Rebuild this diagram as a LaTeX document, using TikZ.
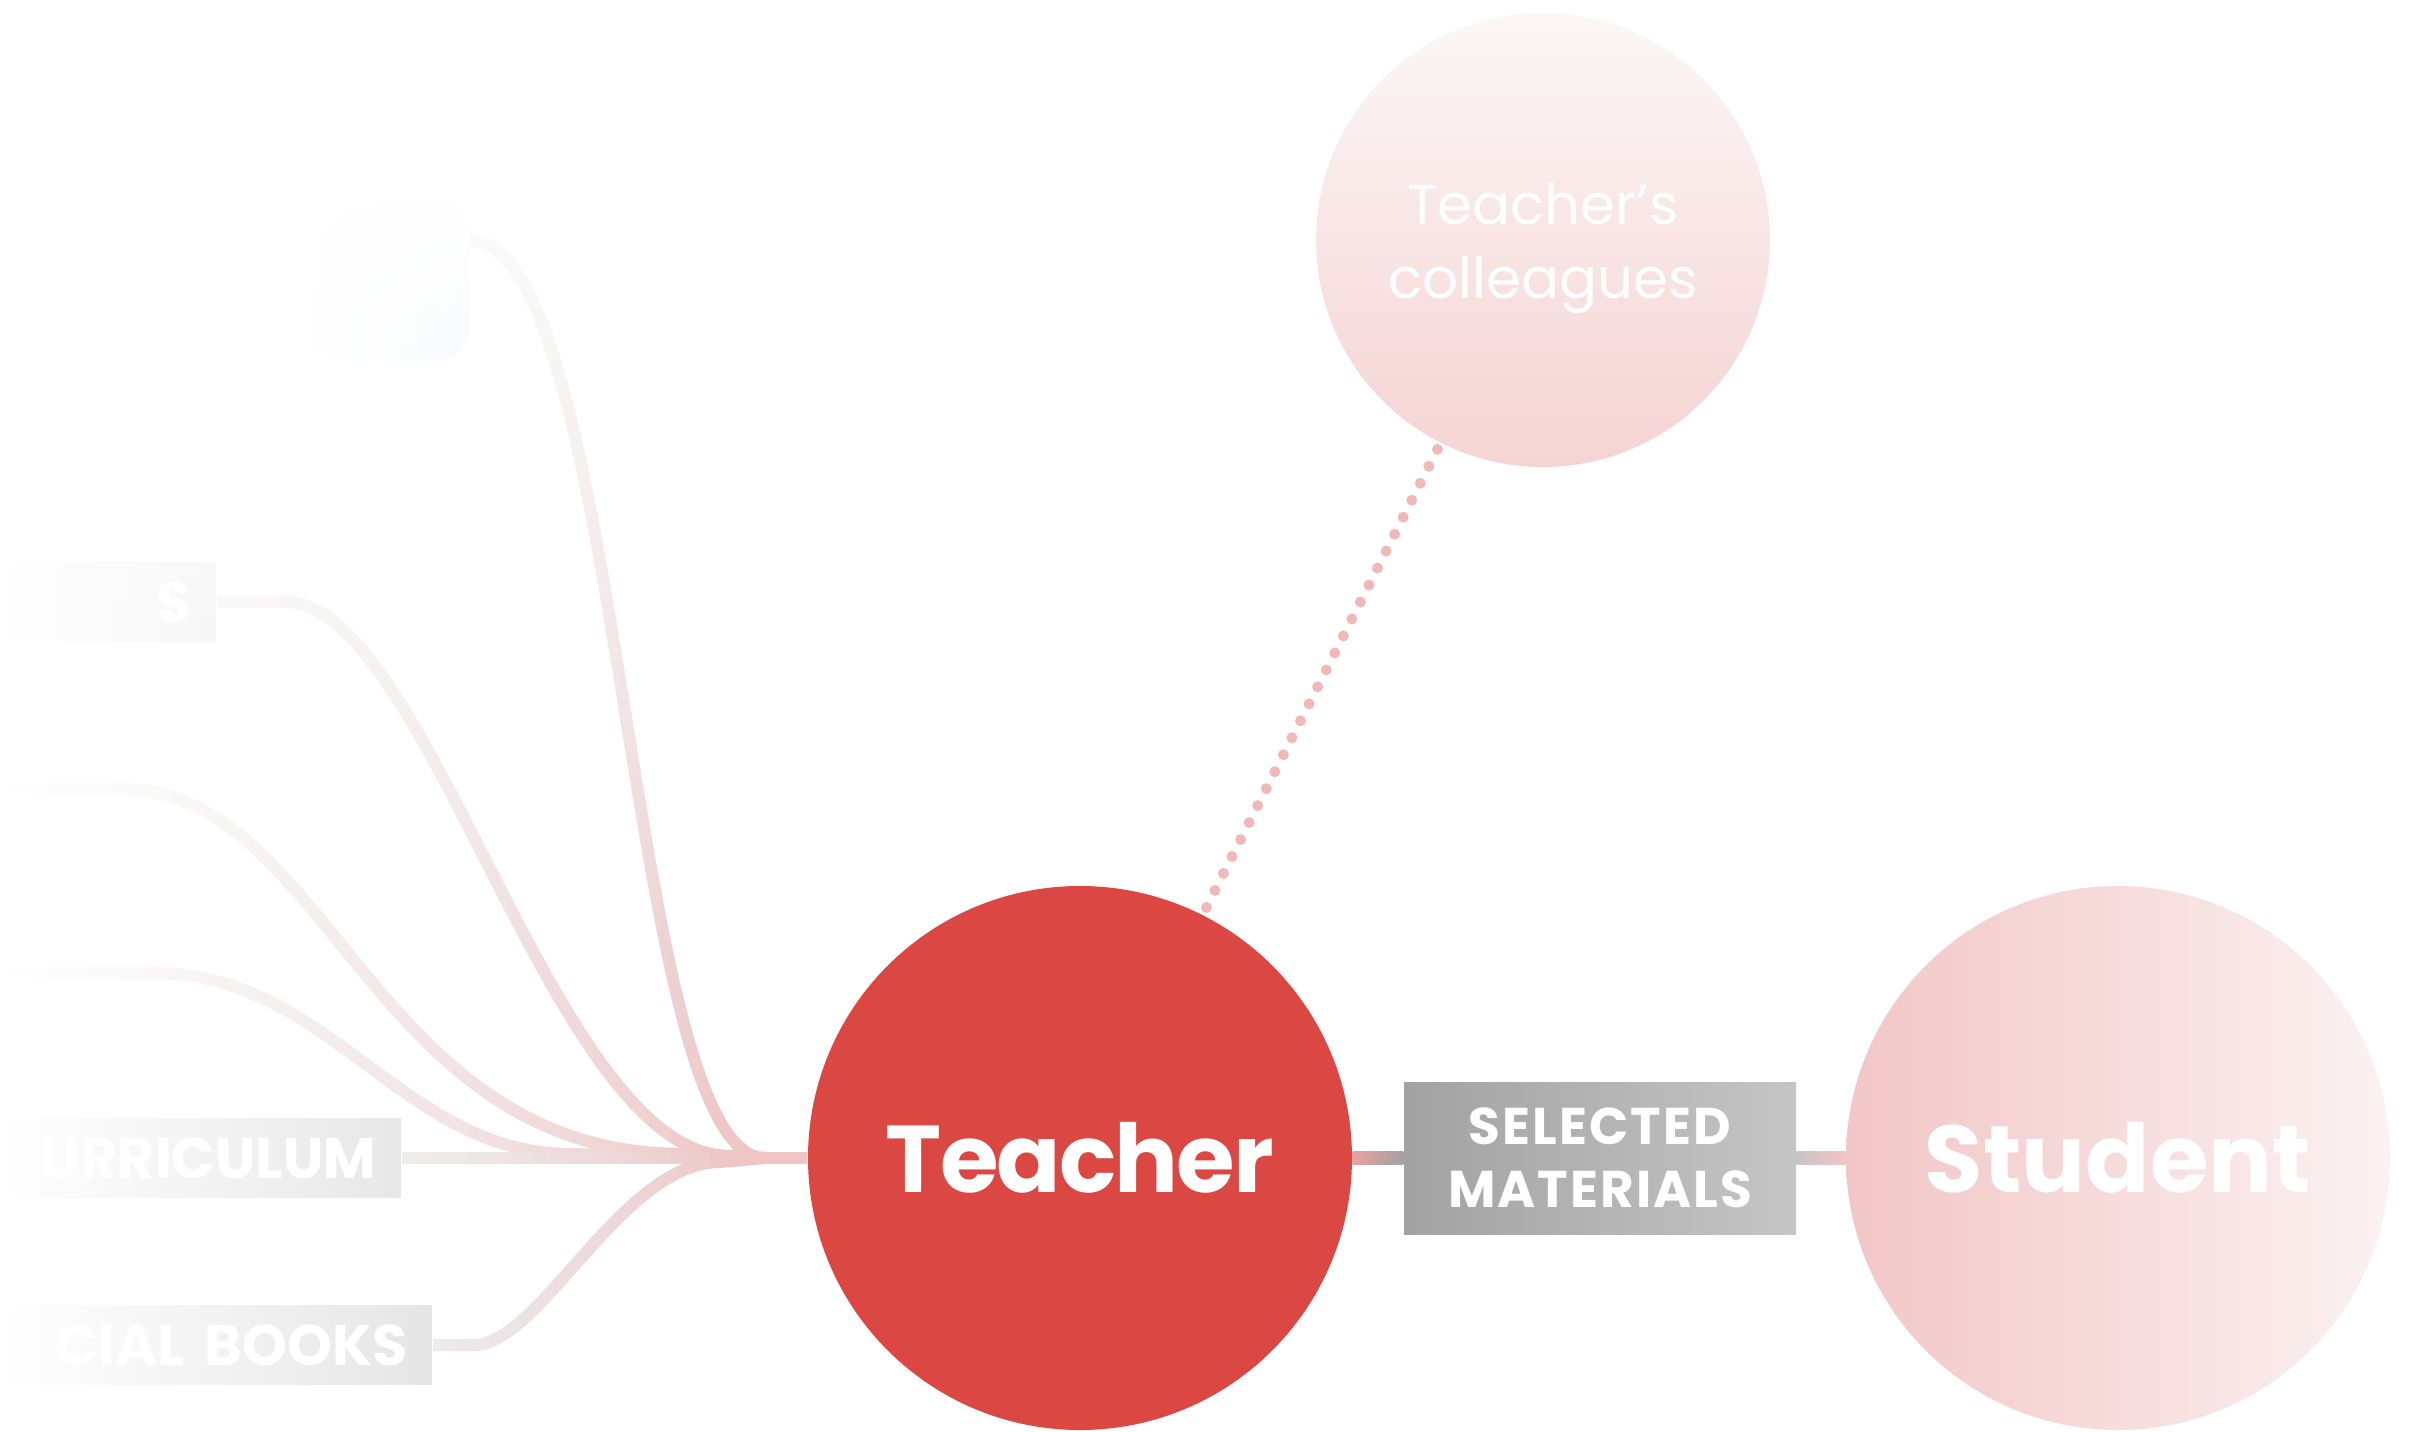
\documentclass[tikz,border=0pt]{standalone}
\usepackage{fontspec}
\setmainfont{Poppins}
\usetikzlibrary{positioning,fadings,shadings}
\definecolor{tred}{RGB}{219,71,66}
\definecolor{tpink}{RGB}{242,196,196}
\definecolor{tpinkdeep}{RGB}{235,160,160}
\definecolor{tgrayline}{RGB}{222,218,218}
\definecolor{tdot}{RGB}{240,184,184}
\definecolor{tstudentl}{RGB}{242,198,198}
\definecolor{tstudentr}{RGB}{251,242,242}
\definecolor{tcolltop}{RGB}{252,247,247}
\definecolor{tcollbot}{RGB}{245,211,211}
\definecolor{tselleft}{RGB}{163,162,162}
\definecolor{tselright}{RGB}{198,197,197}
\definecolor{tbox}{RGB}{205,205,205}
\definecolor{tbluebox}{RGB}{222,232,240}
\tikzfading[name=fadewest, left color=transparent!0, right color=transparent!100]
\tikzstyle{bigcircle} = [circle, minimum size=5.44cm, inner sep=0pt, text=white, font=\bfseries\fontsize{27}{32}\selectfont]
\tikzstyle{sourcebox} = [rectangle, fill=tbox, minimum height=0.8cm, inner xsep=0.25cm, text=white, align=right, font=\bfseries\fontsize{16.3}{18}\selectfont]
\tikzstyle{branch} = [line width=0.12cm, draw=tpink, postaction={draw=tgrayline, path fading=fadewest}]
\tikzstyle{trunk} = [line width=0.12cm, draw=tpink]
\tikzstyle{dots} = [line width=0.11cm, draw=tdot, line cap=round, dash pattern=on 0pt off 0.19cm]

\begin{document}
\begin{tikzpicture}
\fill[white] (0,0) rectangle (24.12,-14.31);
\useasboundingbox (0,0) rectangle (24.12,-14.31);

% sources on the left
\node (topbox) [rectangle, rounded corners=0.33cm, minimum width=1.61cm, minimum height=1.68cm, upper left=white, upper right=white, lower left=white, lower right=tbluebox] at (3.885,-2.77) {};
\node (sbox) [sourcebox, text width=1.67cm, anchor=east] at (2.17,-6.02) {S};
\node (curriculum) [sourcebox, text width=3.52cm, anchor=east] at (4.02,-11.58) {URRICULUM};
\node (official) [sourcebox, text width=3.83cm, anchor=east] at (4.33,-13.45) {CIAL BOOKS};
\coordinate (hub) at (7.65,-11.58);
\coordinate (lineC) at (0,-7.89);
\coordinate (lineD) at (0,-9.73);

\draw[branch] ([yshift=-0.48cm]topbox.north east) .. controls (6.25,-2.41) and (6.25,-11.58) .. (hub);
\draw[branch] (sbox.east) -- (2.85,-6.02) .. controls (4.30,-6.02) and (5.52,-11.56) .. (7.30,-11.56) -- (hub);
\draw[branch] (lineC) -- (1.20,-7.89) .. controls (3.30,-7.89) and (3.70,-11.54) .. (6.84,-11.54) -- (hub);
\draw[branch] (lineD) -- (1.53,-9.73) .. controls (3.30,-9.73) and (4.02,-11.54) .. (5.71,-11.54) -- (hub);
\draw[branch] (curriculum) -- (hub);
\draw[branch] (official.east) -- (4.74,-13.45) .. controls (5.40,-13.45) and (6.22,-11.62) .. (7.20,-11.62) -- (hub);

% fade the left side and the top out
\foreach \i [evaluate=\i as \op using {(1-\i/72)^0.8}] in {0,...,71}
  \fill[white, opacity=\op] (\i/10,0) rectangle ({(\i+1)/10},-14.31);
\foreach \j [evaluate=\j as \op using {(1-\j/95)^0.85}] in {0,...,94}
  \fill[white, opacity=\op] (0,-\j/10) rectangle (8.6,{-(\j+1)/10});

\node (teacher) [bigcircle, fill=tred] at (10.80,-11.58) {\addfontfeatures{LetterSpace=-2}Teacher};
\node (colleagues) [circle, minimum size=4.54cm, inner sep=0pt, top color=tcolltop, bottom color=tcollbot, text=white, align=center, font=\fontsize{16}{21}\selectfont] at (15.43,-2.40) {\rule{0pt}{16.5pt}Teacher’s\\colleagues};
\node (selected) [rectangle, minimum width=3.92cm, minimum height=1.52cm, left color=tselleft, right color=tselright, text=white, align=center, font=\bfseries\fontsize{14.7}{17.9}\selectfont\addfontfeatures{LetterSpace=4}] at (16.00,-11.58) {SELECTED\\MATERIALS};
\node (student) [bigcircle, left color=tstudentl, right color=tstudentr] at (21.18,-11.58) {Student};

\draw[trunk] (hub) -- (teacher);
\draw[dots, shorten <=0.08cm] (teacher) -- (colleagues);
\shade[left color=tpinkdeep, right color=tselleft] ([yshift=0.065cm]teacher.east) rectangle ([yshift=-0.065cm]selected.west);
\shade[left color=tselright, right color=tpink] ([yshift=0.065cm]selected.east) rectangle ([yshift=-0.065cm]student.west);
\end{tikzpicture}
\end{document}
